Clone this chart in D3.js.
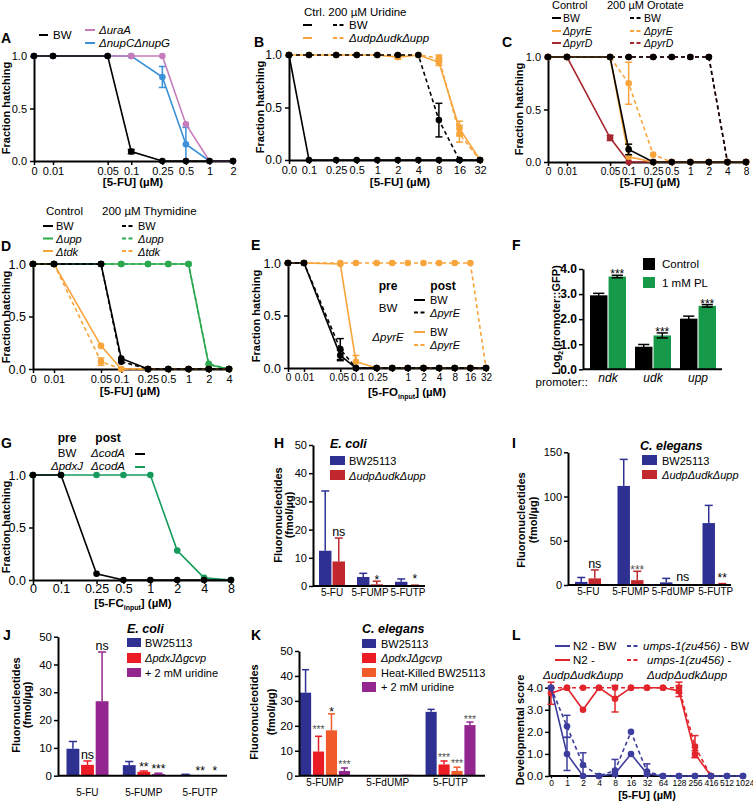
<!DOCTYPE html>
<html><head><meta charset="utf-8">
<script src="https://cdn.jsdelivr.net/npm/d3@7"></script>
<style>body{margin:0;background:#fff}svg{display:block}</style>
</head><body><svg id="c" width="753" height="801"></svg>
<script>
// ---------------- DATA ----------------
// Panel A
const aDose = [0,0.01,0.05,0.1,0.25,0.5,1,2];
const aTickLabels = ["0","0.01","0.05","0.1","0.25","0.5","1","2"];
const aBW = [1,1,1,0.09,0,0,0,0];
const aBWErr = [0,0,0,0.02,0,0,0,0];
const aUraA = [1,1,1,1,1,0.35,0,0];
const aNup = [1,1,1,1,0.8,0.16,0,0];
const aNupErr = [0,0,0,0,0.1,0.16,0,0];
// Panel B
const bDose = [0,0.1,0.25,0.5,1,2,4,8,16,32];
const bTickLabels = ["0.0","0.1","0.25","0.5","1","2","4","8","16","32"];
const bBW = [1,0,0,0,0,0,0,0,0,0];
const bBWUri = [1,1,1,1,1,1,1,0.38,0,0];
const bBWUriErr = [0,0,0,0,0,0,0,0.16,0,0];
const bTKO = [1,1,1,1,1,0.98,1,0.93,0.3,0];
const bTKOErr = [0,0,0,0,0,0.02,0,0.03,0.07,0];
const bTKOUri = [1,1,1,1,1,1,1,0.97,0.25,0];
const bTKOUriErr = [0,0,0,0,0,0,0,0.03,0.08,0];
// Panel C
const cDose = [0,0.01,0.05,0.1,0.25,0.5,1,2,4,8];
const cTickLabels = ["0","0.01","0.05","0.1","0.25","0.5","1","2","4","8"];
const cBW = [1,1,1,0.12,0,0,0,0,0,0];
const cBWErr = [0,0,0,0.05,0,0,0,0,0,0];
const cPyrE = [1,1,1,0.05,0,0,0,0,0,0];
const cPyrD = [1,1,0.23,0,0,0,0,0,0,0];
const cPyrDErr = [0,0,0.025,0,0,0,0,0,0,0];
const cBWOro = [1,1,1,1,1,1,1,1,0,0];
const cPyrEOro = [1,1,1,0.75,0.07,0,0,0,0,0];
const cPyrEOroErr = [0,0,0,0.2,0,0,0,0,0,0];
const cPyrDOro = [1,1,1,1,1,1,1,1,0,0];
// Panel D
const dDose = [0,0.01,0.05,0.1,0.25,0.5,1,2,4];
const dTickLabels = ["0","0.01","0.05","0.1","0.25","0.5","1","2","4"];
const dBW = [1,1,1,0.1,0,0,0,0,0];
const dBWThy = [1,1,1,0.07,0,0,0,0,0];
const dUpp = [1,1,1,1,1,1,1,0.04,0];
const dUppThy = [1,1,1,1,1,1,1,0.05,0];
const dTdk = [1,1,0.22,0,0,0,0,0,0];
const dTdkThy = [1,1,0.07,0,0,0,0,0,0];
const dTdkThyErr = [0,0,0.035,0,0,0,0,0,0];
// Panel E
const eDose = [0,0.01,0.05,0.1,0.25,0.5,1,2,4,8,16,32];
const eTickLabels = ["0","0.01","0.05","0.1","0.25","","1","2","4","8","16","32"];
const eBWBW = [1,1,0.12,0,0,0,0,0,0,0,0,0];
const eBWBWErr = [0,0,0.05,0,0,0,0,0,0,0,0,0];
const eBWPyrE = [1,1,0.18,0,0,0,0,0,0,0,0,0];
const eBWPyrEErr = [0,0,0.1,0,0,0,0,0,0,0,0,0];
const ePyrEBW = [1,1,0.99,0.06,0,0,0,0,0,0,0,0];
const ePyrEBWErr = [0,0,0,0.06,0,0,0,0,0,0,0,0];
const ePyrEPyrE = [1,1,1,1,1,1,1,1,1,1,1,0];
// Panel F
const fPromoters = ["ndk","udk","upp"];
const fControl = [2.95,0.9,2.02];
const fControlErr = [0.08,0.09,0.1];
const fPL = [3.7,1.35,2.53];
const fPLErr = [0.05,0.1,0.05];
// Panel G
const gDose = [0,0.1,0.25,0.5,1,2,4,8];
const gTickLabels = ["0","0.1","0.25","0.5","1","2","4","8"];
const gBW = [1,1,0.06,0,0,0,0,0];
const gPdxJ = [1,1,1,1,1,0.28,0.02,0];
// Panel H
const hCompounds = ["5-FU","5-FUMP","5-FUTP"];
const hBW = [12.5,3.2,1.5];
const hBWErr = [21.2,1.3,1.0];
const hTKO = [8.7,0.6,0.1];
const hTKOErr = [8.3,1.1,0.2];
// Panel I
const iCompounds = ["5-FU","5-FUMP","5-FdUMP","5-FUTP"];
const iBW = [3.5,112,3,70];
const iBWErr = [5,30,4.5,20];
const iTKO = [7.5,5.5,0,1];
const iTKOErr = [9.5,10,0,0.6];
// Panel J
const jCompounds = ["5-FU","5-FUMP","5-FUTP"];
const jBW = [9.7,3.8,0.3];
const jBWErr = [2.6,1.3,0.2];
const jPdx = [3.9,1.4,0.05];
const jPdxErr = [1.4,0.3,0];
const jUri = [26.8,0.6,0.05];
const jUriErr = [17.7,0.3,0];
// Panel K
const kCompounds = ["5-FUMP","5-FdUMP","5-FUTP"];
const kBW = [33.3,0.2,25.6];
const kBWErr = [9.2,0,1];
const kPdx = [9.7,0,4.5];
const kPdxErr = [6.1,0,1.4];
const kHK = [18.2,0,1.9];
const kHKErr = [6.6,0,1.5];
const kUri = [1.9,0.4,20.3];
const kUriErr = [1.2,0,1.2];
// Panel L
const lDose = ["0","1","2","4","8","16","32","64","128","256","416","512","1024"];
const lN2BW = [4,1,0,0,0.1,1,0.1,0,0,0,0,0,0];
const lN2BWErr = [0,0.75,0,0,0,0,0,0,0,0,0,0,0];
const lUmpsBW = [4,2.25,0.5,0,0.25,2,0.2,0,0,0,0,0,0];
const lUmpsBWErr = [0,0.5,0.55,0,0.5,0,0.35,0,0,0,0,0,0];
const lN2TKO = [3.75,4,3,4,3.5,4,4,4,3.85,1.0,0];
const lN2TKOErr = [0.5,0,0,0,0.6,0,0,0,0.25,0.15,0];
const lUmpsTKO = [4,4,4,4,4,4,4,4,4,1.33,0];
const lUmpsTKOErr = [0,0,0,0,0,0,0,0,0.25,0.5,0];

// ---------------- DRAWING ----------------
const FONT = '"Liberation Sans", Arial, Helvetica, sans-serif';
const svg = d3.select('#c').attr('font-family', FONT);
const ORANGE = '#f7a43a', BLACK = '#000', DRED = '#a6272d';

function txt(g, x, y, s, o = {}) {
  const t = g.append('text').attr('x', x).attr('y', y).attr('font-family', FONT)
    .attr('font-size', o.fs || 11).attr('fill', o.fill || '#000')
    .attr('text-anchor', o.anchor || 'start');
  if (o.bold) t.attr('font-weight', 'bold');
  if (o.italic) t.attr('font-style', 'italic');
  if (o.rot) t.attr('transform', `rotate(-90,${x},${y})`);
  if (s !== null) t.text(s);
  return t;
}
function letter(x, y, s) { txt(svg, x, y, s, {fs: 14, bold: true}); }
function legLine(x1, x2, y, color, dash) {
  svg.append('line').attr('x1', x1).attr('x2', x2).attr('y1', y).attr('y2', y)
    .attr('stroke', color).attr('stroke-width', 2).attr('stroke-dasharray', dash ? '4,2.5' : null);
}
function legBox(x, y, w, h, color) {
  svg.append('rect').attr('x', x).attr('y', y).attr('width', w).attr('height', h).attr('fill', color);
}
function styleAxis(a, fs, bold) {
  a.attr('font-family', FONT).attr('font-size', fs);
  a.select('.domain').attr('stroke-width', 2).attr('stroke', '#000');
  a.selectAll('.tick line').attr('stroke-width', 1.5);
  if (bold) a.selectAll('text').attr('font-weight', 'bold');
}

function linePanel(c) {
  const g = svg.append('g');
  const xl = d3.scaleLog().domain([c.xMin, c.xMax]).range([c.xL, c.xR]);
  const xs = d => d === 0 ? c.xZero : xl(d);
  xs.copy = () => xs; xs.range = () => [c.xZero, c.xR]; xs.domain = () => c.ticks;
  const ys = d3.scaleLinear().domain([0, 1]).range([c.yB, c.yT]);
  const ya = g.append('g').attr('transform', `translate(${c.xZero},0)`)
    .call(d3.axisLeft(ys).tickValues([0, 0.5, 1]).tickFormat(d3.format('.1f')).tickSize(4).tickSizeOuter(0));
  styleAxis(ya, c.yfs || c.fs, false);
  const xa = g.append('g').attr('transform', `translate(0,${c.yB})`)
    .call(d3.axisBottom(xs).tickValues(c.ticks).tickFormat((d, i) => c.tickLabels[i]).tickSize(4)
      .tickPadding(c.xPad != null ? c.xPad : 2).tickSizeOuter(0));
  styleAxis(xa, c.fs, false);
  if (c.labelDx) xa.selectAll('.tick text').attr('dx', (d, i) => c.labelDx[i] || 0);
  c.series.forEach(s => {
    const pts = s.x.map((d, i) => ({x: d, y: s.y[i], e: s.e ? s.e[i] : 0}));
    g.append('path').attr('d', d3.line().x(d => xs(d.x)).y(d => ys(d.y))(pts))
      .attr('fill', 'none').attr('stroke', s.color).attr('stroke-width', 1.6)
      .attr('stroke-dasharray', s.dash ? '4,3' : null);
    pts.filter(d => d.e > 0).forEach(d => {
      const x = xs(d.x), y1 = ys(Math.max(0, d.y - d.e)), y2 = ys(d.y + d.e);
      g.append('line').attr('x1', x).attr('x2', x).attr('y1', y1).attr('y2', y2).attr('stroke', s.color).attr('stroke-width', 1.5);
      [y1, y2].forEach(y => g.append('line').attr('x1', x - 3.5).attr('x2', x + 3.5).attr('y1', y).attr('y2', y).attr('stroke', s.color).attr('stroke-width', 1.5));
    });
    g.selectAll(null).data(pts).join('circle').attr('cx', d => xs(d.x)).attr('cy', d => ys(d.y))
      .attr('r', 3.3).attr('fill', s.color);
  });
  return {xs, ys};
}

function barPanel(c) {
  const g = svg.append('g');
  const xb = d3.scaleBand().domain(c.groups).range([c.bx0, c.bx1]);
  const xi = d3.scaleBand().domain(c.series.map(s => s.name)).range([c.off, c.off + c.inW]).paddingInner(c.pad || 0.1);
  const ys = d3.scaleLinear().domain([0, c.yMax]).range([c.yB, c.yT]);
  c.series.forEach(s => {
    c.groups.forEach((grp, gi) => {
      const v = s.v[gi], e = s.e ? s.e[gi] : 0;
      const x = xb(grp) + xi(s.name), w = xi.bandwidth();
      g.append('rect').attr('x', x).attr('y', ys(v)).attr('width', w).attr('height', Math.max(0, ys(0) - ys(v))).attr('fill', s.color);
      if (e > 0) {
        const ec = c.errColor || s.color, cx = x + w / 2;
        const yLo = c.twoSided ? ys(v - e) : ys(v), yHi = ys(v + e);
        g.append('line').attr('x1', cx).attr('x2', cx).attr('y1', yLo).attr('y2', yHi).attr('stroke', ec).attr('stroke-width', 1.5);
        const caps = c.twoSided ? [yLo, yHi] : [yHi];
        caps.forEach(y => g.append('line').attr('x1', cx - w * 0.32).attr('x2', cx + w * 0.32).attr('y1', y).attr('y2', y).attr('stroke', ec).attr('stroke-width', 1.5));
      }
    });
  });
  (c.notes || []).forEach(n => {
    const s = c.series[n.s], gi = c.groups.indexOf(n.g);
    const v = s.v[gi] + (s.e ? s.e[gi] : 0);
    const cx = xb(n.g) + xi(s.name) + xi.bandwidth() / 2 + (n.dx || 0);
    const isStar = n.t.indexOf('*') >= 0;
    txt(g, cx, ys(v) + (n.dy != null ? n.dy : (isStar ? 3 : -2)), n.t,
      {fs: n.fs || (isStar ? 12 : 12.5), anchor: 'middle', fill: n.fill || '#000'});
  });
  const ya = g.append('g').attr('transform', `translate(${c.ax0},0)`)
    .call(d3.axisLeft(ys).tickValues(c.yTicks).tickSize(4).tickPadding(2).tickSizeOuter(0));
  styleAxis(ya, c.fs || 11, c.boldTicks);
  const xa = g.append('g').attr('transform', `translate(0,${c.yB})`)
    .call(d3.axisBottom(xb).tickSize(0).tickPadding(c.xPad || 3).tickSizeOuter(0));
  xa.attr('font-family', FONT).attr('font-size', c.xfs || 10);
  xa.select('.domain').remove();
  if (c.xItalic) xa.selectAll('text').attr('font-style', 'italic');
  g.append('line').attr('x1', c.ax0).attr('x2', c.ax1).attr('y1', c.yB).attr('y2', c.yB).attr('stroke', '#000').attr('stroke-width', 2);
}

// ---------- Panel A ----------
linePanel({xZero: 34, xMin: 0.01, xL: 53, xMax: 2, xR: 233, yT: 56, yB: 161, fs: 11,
  ticks: aDose, tickLabels: aTickLabels,
  series: [
    {x: aDose, y: aNup, e: aNupErr, color: '#3b90d8'},
    {x: aDose, y: aUraA, color: '#c67cbb'},
    {x: aDose, y: aBW, e: aBWErr, color: BLACK}
  ]});
letter(1, 43, 'A');
legLine(39, 48, 35, BLACK); txt(svg, 53, 39, 'BW', {fs: 11.5});
legLine(85, 95, 30, '#c67cbb'); txt(svg, 99, 34, 'ΔuraA', {fs: 11.5, italic: true});
legLine(85, 95, 43, '#3b90d8'); txt(svg, 99, 47, 'ΔnupCΔnupG', {fs: 11.5, italic: true});
txt(svg, 10, 108, 'Fraction hatching', {fs: 11, bold: true, anchor: 'middle', rot: true});
txt(svg, 133, 186, '[5-FU] (µM)', {fs: 11.5, bold: true, anchor: 'middle'});

// ---------- Panel B ----------
linePanel({xZero: 289, xMin: 0.1, xL: 309, xMax: 32, xR: 480, yT: 55, yB: 160, fs: 11, yfs: 12,
  ticks: bDose, tickLabels: bTickLabels,
  series: [
    {x: bDose, y: bTKO, e: bTKOErr, color: ORANGE},
    {x: bDose, y: bTKOUri, e: bTKOUriErr, color: ORANGE, dash: true},
    {x: bDose, y: bBWUri, e: bBWUriErr, color: BLACK, dash: true},
    {x: bDose, y: bBW, color: BLACK}
  ]});
letter(254, 47, 'B');
txt(svg, 304, 16, 'Ctrl. 200 µM Uridine', {fs: 11.5});
legLine(303, 312, 25, BLACK); legLine(333, 346, 25, BLACK, true); txt(svg, 349, 29, 'BW', {fs: 11.5});
legLine(303, 312, 38, ORANGE); legLine(333, 346, 38, ORANGE, true); txt(svg, 349, 42, 'ΔudpΔudkΔupp', {fs: 11.5, italic: true});
txt(svg, 264, 107, 'Fraction hatching', {fs: 11, bold: true, anchor: 'middle', rot: true});
txt(svg, 400, 186, '[5-FU] (µM)', {fs: 11.5, bold: true, anchor: 'middle'});

// ---------- Panel C ----------
linePanel({xZero: 548, xMin: 0.01, xL: 567, xMax: 8, xR: 746, yT: 57, yB: 162, fs: 10.2, yfs: 11,
  ticks: cDose, tickLabels: cTickLabels,
  series: [
    {x: cDose, y: cPyrDOro, color: DRED, dash: true},
    {x: cDose, y: cPyrEOro, e: cPyrEOroErr, color: ORANGE, dash: true},
    {x: cDose, y: cBWOro, color: BLACK, dash: true},
    {x: cDose, y: cPyrD, e: cPyrDErr, color: DRED},
    {x: cDose, y: cPyrE, color: ORANGE},
    {x: cDose, y: cBW, e: cBWErr, color: BLACK}
  ]});
letter(502, 47, 'C');
txt(svg, 552, 9, 'Control', {fs: 11}); txt(svg, 607, 9, '200 µM Orotate', {fs: 11});
legLine(552, 561, 18, BLACK); txt(svg, 563, 22, 'BW', {fs: 10.5});
legLine(630, 642, 18, BLACK, true); txt(svg, 644, 22, 'BW', {fs: 10.5});
legLine(552, 561, 31, ORANGE); txt(svg, 563, 35, 'ΔpyrE', {fs: 10.5, italic: true});
legLine(630, 642, 31, ORANGE, true); txt(svg, 644, 35, 'ΔpyrE', {fs: 10.5, italic: true});
legLine(552, 561, 43, DRED); txt(svg, 563, 47, 'ΔpyrD', {fs: 10.5, italic: true});
legLine(630, 642, 43, DRED, true); txt(svg, 644, 47, 'ΔpyrD', {fs: 10.5, italic: true});
txt(svg, 523, 109, 'Fraction hatching', {fs: 11, bold: true, anchor: 'middle', rot: true});
txt(svg, 650, 186, '[5-FU] (µM)', {fs: 11.5, bold: true, anchor: 'middle'});

// ---------- Panel D ----------
const DGREEN = '#2aa84e';
linePanel({xZero: 33, xMin: 0.01, xL: 54, xMax: 4, xR: 229, yT: 264, yB: 369, fs: 11, yfs: 12.5,
  ticks: dDose, tickLabels: dTickLabels,
  series: [
    {x: dDose, y: dUppThy, color: DGREEN, dash: true},
    {x: dDose, y: dUpp, color: DGREEN},
    {x: dDose, y: dTdkThy, e: dTdkThyErr, color: ORANGE, dash: true},
    {x: dDose, y: dTdk, color: ORANGE},
    {x: dDose, y: dBWThy, color: BLACK, dash: true},
    {x: dDose, y: dBW, color: BLACK}
  ]});
letter(1, 251, 'D');
txt(svg, 46, 215, 'Control', {fs: 11.5}); txt(svg, 102, 215, '200 µM Thymidine', {fs: 11.5});
legLine(43, 53, 226, BLACK); txt(svg, 56, 230, 'BW', {fs: 11});
legLine(122, 133, 226, BLACK, true); txt(svg, 138, 230, 'BW', {fs: 11});
legLine(43, 53, 238.5, DGREEN); txt(svg, 56, 242.5, 'Δupp', {fs: 11, italic: true});
legLine(122, 133, 238.5, DGREEN, true); txt(svg, 138, 242.5, 'Δupp', {fs: 11, italic: true});
legLine(43, 53, 251, ORANGE); txt(svg, 56, 255.5, 'Δtdk', {fs: 11, italic: true});
legLine(122, 133, 251, ORANGE, true); txt(svg, 138, 255.5, 'Δtdk', {fs: 11, italic: true});
txt(svg, 10, 317, 'Fraction hatching', {fs: 11, bold: true, anchor: 'middle', rot: true});
txt(svg, 130, 395, '[5-FU] (µM)', {fs: 11.5, bold: true, anchor: 'middle'});

// ---------- Panel E ----------
linePanel({xZero: 288, xMin: 0.01, xL: 304, xMax: 32, xR: 486, yT: 263, yB: 368, fs: 10, yfs: 12.5,
  ticks: eDose, tickLabels: eTickLabels, labelDx: [0, 0, -1.5, 1.5, 1, 0, 0, 0, 0, 0, 0, 0],
  series: [
    {x: eDose, y: ePyrEPyrE, color: ORANGE, dash: true},
    {x: eDose, y: ePyrEBW, e: ePyrEBWErr, color: ORANGE},
    {x: eDose, y: eBWPyrE, e: eBWPyrEErr, color: BLACK, dash: true},
    {x: eDose, y: eBWBW, e: eBWBWErr, color: BLACK}
  ]});
letter(251, 250, 'E');
txt(svg, 388, 290, 'pre', {fs: 12, bold: true, anchor: 'middle'});
txt(svg, 443, 290, 'post', {fs: 12, bold: true, anchor: 'middle'});
txt(svg, 388, 312, 'BW', {fs: 11.5, anchor: 'middle'});
txt(svg, 388, 341, 'ΔpyrE', {fs: 11.5, italic: true, anchor: 'middle'});
legLine(414, 425, 300, BLACK); txt(svg, 430, 304, 'BW', {fs: 11});
legLine(414, 425, 312.5, BLACK, true); txt(svg, 430, 316.5, 'ΔpyrE', {fs: 11, italic: true});
legLine(414, 425, 332, ORANGE); txt(svg, 430, 336, 'BW', {fs: 11});
legLine(414, 425, 345, ORANGE, true); txt(svg, 430, 349, 'ΔpyrE', {fs: 11, italic: true});
txt(svg, 260, 316, 'Fraction hatching', {fs: 11, bold: true, anchor: 'middle', rot: true});
{
  const t = txt(svg, 407, 396, null, {fs: 11.5, bold: true, anchor: 'middle'});
  t.append('tspan').text('[5-FO');
  t.append('tspan').attr('font-size', 7).attr('dy', 3).text('input');
  t.append('tspan').attr('dy', -3).text('] (µM)');
}

// ---------- Panel F ----------
const FGREEN = '#169a4a';
barPanel({groups: fPromoters, bx0: 585.5, bx1: 720.5, off: 4.5, inW: 36, pad: 0.06,
  yMax: 4, yT: 269, yB: 369.3, yTicks: [0, 1, 2, 3, 4], ax0: 583, ax1: 722, fs: 12, boldTicks: true,
  twoSided: true, errColor: '#000', xItalic: true, xfs: 12, xPad: 4,
  series: [{name: 'Control', v: fControl, e: fControlErr, color: '#000'},
           {name: '1 mM PL', v: fPL, e: fPLErr, color: FGREEN}],
  notes: [{g: 'ndk', s: 1, t: '***'}, {g: 'udk', s: 1, t: '***'}, {g: 'upp', s: 1, t: '***'}]});
letter(512, 250, 'F');
legBox(643, 258, 12, 12, '#000'); txt(svg, 662, 268, 'Control', {fs: 11.5});
legBox(643, 277, 12, 11, FGREEN); txt(svg, 662, 287, '1 mM PL', {fs: 11.5});
txt(svg, 588, 386, 'promoter::', {fs: 11.5, anchor: 'end'});
{
  const t = txt(svg, 560, 320, null, {fs: 11, bold: true, anchor: 'middle', rot: true});
  t.append('tspan').text('Log');
  t.append('tspan').attr('font-size', 7).attr('dy', 3).text('2');
  t.append('tspan').attr('dy', -3).text('(promoter::GFP)');
}

// ---------- Panel G ----------
const GGREEN = '#179b5d';
linePanel({xZero: 33, xMin: 0.1, xL: 61, xMax: 8, xR: 231, yT: 475, yB: 580, fs: 12.5, xPad: 0,
  ticks: gDose, tickLabels: gTickLabels,
  series: [
    {x: gDose, y: gPdxJ, color: GGREEN},
    {x: gDose, y: gBW, color: BLACK}
  ]});
letter(1, 448, 'G');
txt(svg, 67, 442, 'pre', {fs: 12, bold: true, anchor: 'middle'});
txt(svg, 108, 442, 'post', {fs: 12, bold: true, anchor: 'middle'});
txt(svg, 67, 457, 'BW', {fs: 11.5, anchor: 'middle'});
txt(svg, 67, 470, 'ΔpdxJ', {fs: 11.5, italic: true, anchor: 'middle'});
txt(svg, 108, 457, 'ΔcodA', {fs: 11.5, italic: true, anchor: 'middle'});
txt(svg, 108, 470, 'ΔcodA', {fs: 11.5, italic: true, anchor: 'middle'});
legLine(135, 145, 454, BLACK); legLine(135, 145, 467, GGREEN);
txt(svg, 10, 527, 'Fraction hatching', {fs: 11, bold: true, anchor: 'middle', rot: true});
{
  const t = txt(svg, 133, 607, null, {fs: 11.5, bold: true, anchor: 'middle'});
  t.append('tspan').text('[5-FC');
  t.append('tspan').attr('font-size', 7).attr('dy', 3).text('input');
  t.append('tspan').attr('dy', -3).text('] (µM)');
}

// ---------- Panel H ----------
const NAVY = '#2e3192', HRED = '#c1272d';
barPanel({groups: hCompounds, bx0: 313, bx1: 427, off: 6, inW: 26, pad: 0.08,
  yMax: 50, yT: 445, yB: 586, yTicks: [0, 10, 20, 30, 40, 50], ax0: 313, ax1: 425, fs: 11, xPad: 3,
  series: [{name: 'BW25113', v: hBW, e: hBWErr, color: NAVY},
           {name: 'TKO', v: hTKO, e: hTKOErr, color: HRED}],
  notes: [{g: '5-FU', s: 1, t: 'ns'}, {g: '5-FUMP', s: 1, t: '*'}, {g: '5-FUTP', s: 1, t: '*', dy: -2}]});
letter(274, 448, 'H');
txt(svg, 330, 448, 'E. coli', {fs: 12.5, bold: true, italic: true});
legBox(330, 456, 15, 9, NAVY); txt(svg, 349, 465, 'BW25113', {fs: 11});
legBox(330, 470, 15, 10, HRED); txt(svg, 349, 480, 'ΔudpΔudkΔupp', {fs: 11, italic: true});
txt(svg, 282, 515, 'Fluoronucleotides', {fs: 11, bold: true, anchor: 'middle', rot: true});
txt(svg, 293, 515, '(fmol/µg)', {fs: 11, bold: true, anchor: 'middle', rot: true});

// ---------- Panel I ----------
barPanel({groups: iCompounds, bx0: 567, bx1: 737, off: 8, inW: 26, pad: 0.08,
  yMax: 150, yT: 452.3, yB: 585, yTicks: [0, 50, 100, 150], ax0: 568, ax1: 731, fs: 11, xPad: 3,
  series: [{name: 'BW25113', v: iBW, e: iBWErr, color: NAVY},
           {name: 'TKO', v: iTKO, e: iTKOErr, color: HRED}],
  notes: [{g: '5-FU', s: 1, t: 'ns'}, {g: '5-FUMP', s: 1, t: '***', fill: '#555'},
          {g: '5-FdUMP', s: 1, t: 'ns', dx: 3, dy: -4}, {g: '5-FUTP', s: 1, t: '**', dy: -2}]});
letter(512, 448, 'I');
txt(svg, 640, 450, 'C. elegans', {fs: 12.5, bold: true, italic: true});
legBox(642, 455, 15, 10, NAVY); txt(svg, 662, 465, 'BW25113', {fs: 11});
legBox(642, 470, 15, 9, HRED); txt(svg, 662, 479, 'ΔudpΔudkΔupp', {fs: 11, italic: true});
txt(svg, 525, 520, 'Fluoronucleotides', {fs: 11, bold: true, anchor: 'middle', rot: true});
txt(svg, 537, 520, '(fmol/µg)', {fs: 11, bold: true, anchor: 'middle', rot: true});

// ---------- Panel J ----------
const JRED = '#ec1c24', PURPLE = '#93278f', KORANGE = '#f15a29';
barPanel({groups: jCompounds, bx0: 59.25, bx1: 228.25, off: 7.25, inW: 42, pad: 0.12,
  yMax: 50, yT: 636.7, yB: 775.7, yTicks: [0, 10, 20, 30, 40, 50], ax0: 58, ax1: 227, fs: 11.5, xPad: 13, xfs: 10,
  series: [{name: 'BW25113', v: jBW, e: jBWErr, color: NAVY},
           {name: 'pdx', v: jPdx, e: jPdxErr, color: JRED},
           {name: 'uri', v: jUri, e: jUriErr, color: PURPLE}],
  notes: [{g: '5-FU', s: 1, t: 'ns'}, {g: '5-FU', s: 2, t: 'ns'},
          {g: '5-FUMP', s: 1, t: '**', dy: 0}, {g: '5-FUMP', s: 2, t: '***', dy: 0},
          {g: '5-FUTP', s: 1, t: '**', dy: -1}, {g: '5-FUTP', s: 2, t: '*', dy: -1}]});
letter(3, 640, 'J');
txt(svg, 127, 633, 'E. coli', {fs: 12.5, bold: true, italic: true});
legBox(127, 638, 14, 9, NAVY); txt(svg, 145, 647, 'BW25113', {fs: 11});
legBox(127, 653, 14, 10, JRED); txt(svg, 145, 662, 'ΔpdxJΔgcvp', {fs: 11, italic: true});
legBox(127, 668, 14, 9, PURPLE); txt(svg, 145, 677, '+ 2 mM uridine', {fs: 11});
txt(svg, 20, 705, 'Fluoronucleotides', {fs: 11, bold: true, anchor: 'middle', rot: true});
txt(svg, 31, 705, '(fmol/µg)', {fs: 11, bold: true, anchor: 'middle', rot: true});

// ---------- Panel K ----------
barPanel({groups: kCompounds, bx0: 293.6, bx1: 481.9, off: 6.4, inW: 50, pad: 0.14,
  yMax: 50, yT: 651, yB: 775.7, yTicks: [0, 10, 20, 30, 40, 50], ax0: 299, ax1: 485, fs: 11.5, xPad: 3, xfs: 10,
  series: [{name: 'BW25113', v: kBW, e: kBWErr, color: NAVY},
           {name: 'pdx', v: kPdx, e: kPdxErr, color: JRED},
           {name: 'hk', v: kHK, e: kHKErr, color: KORANGE},
           {name: 'uri', v: kUri, e: kUriErr, color: PURPLE}],
  notes: [{g: '5-FUMP', s: 1, t: '***', dy: -3, fill: '#555', fs: 10.5}, {g: '5-FUMP', s: 2, t: '*', dy: 2},
          {g: '5-FUMP', s: 3, t: '***', dy: 0, fill: '#555', fs: 10.5},
          {g: '5-FUTP', s: 1, t: '***', dy: 0, fill: '#555', fs: 10.5}, {g: '5-FUTP', s: 2, t: '***', dy: 0, fill: '#555', fs: 10.5},
          {g: '5-FUTP', s: 3, t: '***', dy: 1, fill: '#555', fs: 10.5}]});
letter(251, 640, 'K');
txt(svg, 362, 633, 'C. elegans', {fs: 12.5, bold: true, italic: true});
legBox(362, 639, 14, 9, NAVY); txt(svg, 381, 648, 'BW25113', {fs: 11});
legBox(362, 653, 14, 10, JRED); txt(svg, 381, 662, 'ΔpdxJΔgcvp', {fs: 11, italic: true});
legBox(362, 668, 14, 9, KORANGE); txt(svg, 381, 677, 'Heat-Killed BW25113', {fs: 11});
legBox(362, 682, 14, 10, PURPLE); txt(svg, 381, 691, '+ 2 mM uridine', {fs: 11});
txt(svg, 258, 712, 'Fluoronucleotides', {fs: 11, bold: true, anchor: 'middle', rot: true});
txt(svg, 275, 712, '(fmol/µg)', {fs: 11, bold: true, anchor: 'middle', rot: true});

// ---------- Panel L ----------
{
  const LBLUE = '#3d3d9e', LRED = '#e2252b';
  const g = svg.append('g');
  const xs = d3.scalePoint().domain(lDose).range([551, 743]);
  const ys = d3.scaleLinear().domain([0, 4]).range([776, 687.7]);
  const ya = g.append('g').attr('transform', 'translate(549,0)')
    .call(d3.axisLeft(ys).tickValues([0, 1, 2, 3, 4]).tickSize(4).tickPadding(2).tickSizeOuter(0));
  styleAxis(ya, 11.5, false);
  const xa = g.append('g').attr('transform', 'translate(0,776)')
    .call(d3.axisBottom(xs).tickSize(2.5).tickPadding(1).tickSizeOuter(0));
  xa.attr('font-family', FONT).attr('font-size', 8.5);
  xa.select('.domain').remove();
  xa.selectAll('.tick line').attr('stroke-width', 1.2);
  xa.selectAll('.tick text').attr('dx', d => d === '1024' ? 1.5 : (d === '512' ? -0.5 : 0));
  g.append('line').attr('x1', 549).attr('x2', 745).attr('y1', 776).attr('y2', 776).attr('stroke', '#000').attr('stroke-width', 2);
  const series = [
    {y: lUmpsTKO, e: lUmpsTKOErr, color: LRED, dash: true},
    {y: lN2TKO, e: lN2TKOErr, color: LRED},
    {y: lUmpsBW, e: lUmpsBWErr, color: LBLUE, dash: true},
    {y: lN2BW, e: lN2BWErr, color: LBLUE}
  ];
  series.forEach(s => {
    const pts = s.y.map((v, i) => ({x: lDose[i], y: v, e: s.e[i]}));
    g.append('path').attr('d', d3.line().x(d => xs(d.x)).y(d => ys(d.y))(pts))
      .attr('fill', 'none').attr('stroke', s.color).attr('stroke-width', 1.6).attr('stroke-dasharray', s.dash ? '4,3' : null);
    pts.filter(d => d.e > 0).forEach(d => {
      const x = xs(d.x), y1 = ys(Math.max(0, d.y - d.e)), y2 = ys(d.y + d.e);
      g.append('line').attr('x1', x).attr('x2', x).attr('y1', y1).attr('y2', y2).attr('stroke', s.color).attr('stroke-width', 1.5);
      [y1, y2].forEach(y => g.append('line').attr('x1', x - 3.5).attr('x2', x + 3.5).attr('y1', y).attr('y2', y).attr('stroke', s.color).attr('stroke-width', 1.5));
    });
    g.selectAll(null).data(pts).join('circle').attr('cx', d => xs(d.x)).attr('cy', d => ys(d.y)).attr('r', 3.3).attr('fill', s.color);
  });
  letter(512, 640, 'L');
  legLine(555, 570, 646, LBLUE); txt(svg, 573, 650, 'N2 - BW', {fs: 11.5});
  legLine(627, 639, 646, LBLUE, true);
  {
    const t = txt(svg, 643, 650, null, {fs: 11.5});
    t.append('tspan').attr('font-style', 'italic').text('umps-1(zu456)');
    t.append('tspan').text(' - BW');
  }
  legLine(555, 570, 660, LRED); txt(svg, 573, 664, 'N2 -', {fs: 11.5});
  legLine(627, 639, 660, LRED, true); txt(svg, 647, 664, null, {fs: 11.5}).call(t => {
    t.append('tspan').attr('font-style', 'italic').text('umps-1(zu456)');
    t.append('tspan').text(' -');
  });
  txt(svg, 543, 679, 'ΔudpΔudkΔupp', {fs: 11.5, italic: true});
  txt(svg, 647, 679, 'ΔudpΔudkΔupp', {fs: 11.5, italic: true});
  txt(svg, 524, 730, 'Developmental score', {fs: 11, bold: true, anchor: 'middle', rot: true});
  txt(svg, 647, 798.5, '[5-FU] (µM)', {fs: 11, bold: true, anchor: 'middle'});
}
</script>
</body></html>
